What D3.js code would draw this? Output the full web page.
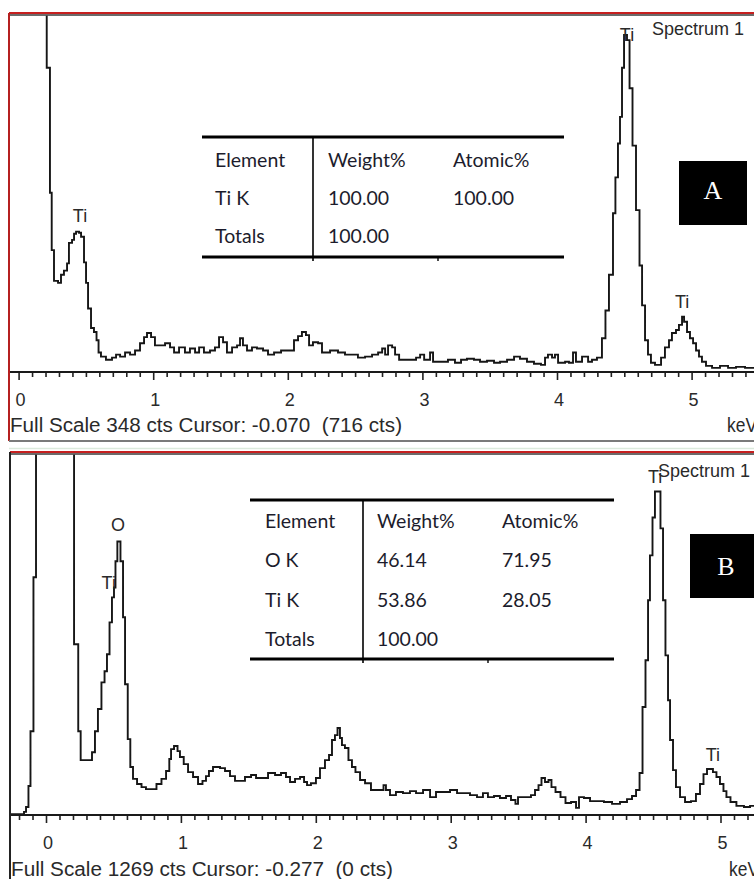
<!DOCTYPE html>
<html>
<head>
<meta charset="utf-8">
<script src="https://cdn.jsdelivr.net/npm/d3@7"></script>
<style>
  body { margin: 0; background: #fff; }
  svg { display: block; }
  .tick text { font-family: 'Liberation Sans', Arial, sans-serif; font-size: 18px; fill: #2a2a2a; }
  .tick line { stroke: #222; stroke-width: 1.6; }
</style>
</head>
<body>
<svg id="chart" width="754" height="879"></svg>
<script>
// EDS spectra, [keV, counts] at the start of each step
const spectrumA = [
  [-0.07, 800], [0.209, 297], [0.233, 175], [0.246, 119], [0.263, 89], [0.293, 87],
  [0.315, 95], [0.337, 99], [0.360, 106], [0.374, 126], [0.397, 129], [0.412, 135],
  [0.427, 137], [0.449, 136], [0.464, 132], [0.486, 107], [0.501, 87], [0.516, 62],
  [0.538, 43], [0.560, 39], [0.579, 31], [0.594, 19], [0.612, 15], [0.649, 12],
  [0.694, 14], [0.724, 17], [0.754, 15], [0.791, 19], [0.828, 17], [0.865, 21],
  [0.902, 28], [0.932, 34], [0.954, 38], [0.984, 34], [1.013, 26], [1.050, 26],
  [1.088, 28], [1.125, 24], [1.155, 19], [1.192, 24], [1.236, 19], [1.273, 23],
  [1.311, 19], [1.341, 24], [1.377, 19], [1.422, 21], [1.459, 24], [1.489, 34],
  [1.519, 29], [1.548, 19], [1.586, 24], [1.623, 26], [1.645, 33], [1.667, 26],
  [1.697, 21], [1.734, 24], [1.771, 23], [1.816, 21], [1.853, 17], [1.898, 19],
  [1.950, 21], [2.016, 21], [2.046, 31], [2.076, 35], [2.105, 39], [2.135, 36],
  [2.158, 26], [2.187, 29], [2.225, 28], [2.254, 19], [2.314, 21], [2.373, 19],
  [2.425, 17], [2.477, 17], [2.521, 14], [2.574, 15], [2.626, 17], [2.671, 19],
  [2.701, 23], [2.723, 17], [2.745, 26], [2.775, 24], [2.797, 17], [2.827, 12],
  [2.909, 12], [2.953, 14], [2.983, 17], [3.013, 12], [3.057, 19], [3.079, 10],
  [3.146, 10], [3.190, 12], [3.242, 9], [3.287, 12], [3.331, 13], [3.383, 12],
  [3.428, 10], [3.480, 11], [3.532, 9], [3.577, 10], [3.629, 12], [3.681, 15],
  [3.725, 13], [3.777, 10], [3.829, 8], [3.881, 7], [3.911, 14], [3.933, 17],
  [3.963, 14], [3.985, 17], [4.008, 9], [4.060, 10], [4.089, 9], [4.119, 19],
  [4.141, 10], [4.186, 15], [4.231, 10], [4.260, 12], [4.297, 14], [4.334, 33],
  [4.360, 60], [4.386, 95], [4.416, 155], [4.434, 190], [4.453, 223], [4.468, 249],
  [4.483, 297], [4.498, 329], [4.520, 324], [4.539, 277], [4.561, 221], [4.587, 158],
  [4.613, 104], [4.632, 65], [4.654, 31], [4.676, 17], [4.698, 9], [4.728, 7],
  [4.773, 14], [4.802, 24], [4.832, 31], [4.854, 38], [4.884, 41], [4.906, 46],
  [4.929, 54], [4.944, 49], [4.966, 39], [4.988, 33], [5.011, 28], [5.033, 21],
  [5.055, 15], [5.077, 10], [5.107, 6], [5.152, 4], [5.211, 6], [5.271, 4],
  [5.330, 5], [5.397, 4], [5.6, 4],
];

const spectrumB = [
  [-0.277, 3], [-0.163, 11], [-0.148, 28], [-0.130, 102], [-0.115, 295], [-0.093, 837],
  [-0.074, 2500], [0.208, 601], [0.239, 295], [0.257, 193], [0.341, 221], [0.363, 295],
  [0.385, 373], [0.411, 467], [0.434, 506], [0.452, 566], [0.471, 678], [0.489, 766],
  [0.504, 801], [0.515, 893], [0.529, 963], [0.552, 893], [0.571, 696], [0.586, 460],
  [0.606, 267], [0.625, 169], [0.645, 127], [0.675, 109], [0.708, 98], [0.741, 91],
  [0.819, 109], [0.856, 127], [0.890, 155], [0.914, 197], [0.927, 232], [0.949, 243],
  [0.975, 225], [0.993, 204], [1.021, 179], [1.053, 151], [1.090, 134], [1.127, 109],
  [1.160, 120], [1.186, 137], [1.208, 155], [1.238, 169], [1.290, 165], [1.327, 155],
  [1.364, 137], [1.401, 120], [1.438, 120], [1.475, 134], [1.520, 141], [1.557, 130],
  [1.601, 130], [1.646, 148], [1.698, 141], [1.742, 148], [1.779, 134], [1.809, 116],
  [1.846, 127], [1.883, 134], [1.913, 116], [1.935, 105], [1.964, 112], [2.001, 130],
  [2.031, 165], [2.068, 193], [2.098, 211], [2.120, 264], [2.142, 281], [2.161, 306],
  [2.179, 271], [2.194, 246], [2.216, 236], [2.242, 193], [2.268, 169], [2.294, 151],
  [2.328, 123], [2.365, 112], [2.409, 88], [2.502, 105], [2.520, 88], [2.550, 70],
  [2.594, 81], [2.646, 77], [2.698, 84], [2.743, 77], [2.795, 88], [2.847, 63],
  [2.891, 81], [2.950, 81], [2.995, 88], [3.047, 77], [3.091, 77], [3.143, 70],
  [3.195, 63], [3.239, 77], [3.276, 63], [3.321, 67], [3.365, 60], [3.410, 67],
  [3.447, 53], [3.480, 39], [3.499, 63], [3.551, 63], [3.595, 70], [3.625, 88],
  [3.651, 105], [3.673, 130], [3.699, 116], [3.725, 123], [3.747, 98], [3.777, 81],
  [3.814, 63], [3.851, 42], [3.892, 46], [3.929, 25], [3.951, 63], [3.988, 60],
  [4.033, 49], [4.085, 49], [4.136, 46], [4.196, 39], [4.255, 46], [4.307, 56],
  [4.344, 67], [4.374, 88], [4.400, 148], [4.422, 380], [4.444, 545], [4.463, 756],
  [4.477, 914], [4.496, 1047], [4.514, 1139], [4.555, 1009], [4.574, 756], [4.592, 562],
  [4.611, 404], [4.626, 264], [4.648, 158], [4.670, 98], [4.700, 63], [4.737, 46],
  [4.781, 49], [4.818, 74], [4.848, 109], [4.874, 144], [4.900, 162], [4.944, 151],
  [4.970, 134], [4.996, 109], [5.022, 84], [5.044, 63], [5.074, 46], [5.118, 32],
  [5.174, 28], [5.219, 32], [5.6, 32],
];

// peak labels [text, keV, counts at label baseline]
const peaksA = [['Ti', 0.456, 146], ['Ti', 4.52, 323], ['Ti', 4.93, 62]];
const peaksB = [['O', 0.534, 998], ['Ti', 0.465, 794], ['Ti', 4.515, 1170], ['Ti', 4.944, 190]];

const tableA = [
  ['Element', 'Weight%', 'Atomic%'],
  ['Ti K', '100.00', '100.00'],
  ['Totals', '100.00', ''],
];
const tableB = [
  ['Element', 'Weight%', 'Atomic%'],
  ['O K', '46.14', '71.95'],
  ['Ti K', '53.86', '28.05'],
  ['Totals', '100.00', ''],
];

const tickLabels = [0, 1, 2, 3, 4, 5];
const fullScale = [348, 1269];
const footers = [
  'Full Scale 348 cts Cursor: -0.070  (716 cts)',
  'Full Scale 1269 cts Cursor: -0.277  (0 cts)',
];

const panels = [
  {
    id: 'A', data: spectrumA, peaks: peaksA, table: tableA, full: fullScale[0], footer: footers[0],
    frameTop: 13, plotTop: 15.5, base: 372, left: 9, xMin: -0.07, zeroPx: 18.6, kev: 134.6,
    frameColor: '#c62020', leftColor: '#b52020', bottom: 441,
    footY: 432, footLen: 392, kevX: 727,
    tbl: { x1: 202, x2: 564, y1: 137, y2: 257, vx: 313, notch: 438, cols: [215, 328, 453], row0: 167, rowStep: 38 },
    box: { x: 679, y: 161, w: 68, h: 64 }, letterY: 199, specY: 35, specX: 652,
  },
  {
    id: 'B', data: spectrumB, peaks: peaksB, table: tableB, full: fullScale[1], footer: footers[1],
    frameTop: 452, plotTop: 454.5, base: 815, left: 10, xMin: -0.277, zeroPx: 46, kev: 134.9,
    frameColor: '#c62020', leftColor: '#222', bottom: null,
    footY: 876, footLen: 382, kevX: 729,
    tbl: { x1: 250, x2: 614, y1: 500, y2: 659, vx: 363, notch: 488, cols: [265, 377, 502], row0: 528, rowStep: 39.3 },
    box: { x: 690, y: 534, w: 70, h: 64 }, letterY: 575, specY: 477, specX: 658,
  },
];

const svg = d3.select('#chart');
const W = 754;

panels.forEach(p => {
  const g = svg.append('g');
  const x = d3.scaleLinear().domain([0, 5]).range([p.zeroPx, p.zeroPx + 5 * p.kev]);
  const y = d3.scaleLinear().domain([0, p.full]).range([p.base, p.plotTop]);

  // clip so off-scale counts vanish above the frame
  g.append('clipPath').attr('id', `clip${p.id}`)
    .append('rect')
    .attr('x', p.left).attr('y', p.plotTop)
    .attr('width', W - p.left).attr('height', p.base - p.plotTop);

  const line = d3.line()
    .x(d => x(d[0]))
    .y(d => y(d[1]))
    .curve(d3.curveStepAfter);

  g.append('path')
    .datum(p.data)
    .attr('clip-path', `url(#clip${p.id})`)
    .attr('fill', 'none')
    .attr('stroke', '#161616')
    .attr('stroke-width', 1.9)
    .attr('d', line);

  // baseline + ticks
  const minor = d3.range(-3, 57).map(i => i / 10).filter(v => v >= p.xMin && v % 1 !== 0);
  const axisG = g.append('g').attr('transform', `translate(0,${p.base})`);
  axisG.call(d3.axisBottom(x).tickValues(minor).tickSize(5).tickFormat(''))
    .call(a => a.select('.domain').remove());
  const majorG = g.append('g').attr('transform', `translate(0,${p.base})`);
  majorG.call(d3.axisBottom(x).tickValues(tickLabels).tickSize(8).tickPadding(13).tickFormat(d3.format('d')))
    .call(a => a.select('.domain').remove());
  majorG.selectAll('.tick text').attr('dx', 1.5);

  g.append('line')
    .attr('x1', p.left).attr('x2', W)
    .attr('y1', p.base).attr('y2', p.base)
    .attr('stroke', '#1a1a1a').attr('stroke-width', 1.8);

  // frame
  g.append('line')
    .attr('x1', p.left).attr('x2', W).attr('y1', p.frameTop).attr('y2', p.frameTop)
    .attr('stroke', p.frameColor).attr('stroke-width', 2);
  g.append('line')
    .attr('x1', p.left).attr('x2', W).attr('y1', p.frameTop + 2).attr('y2', p.frameTop + 2)
    .attr('stroke', '#3a3a3a').attr('stroke-width', 1.4);
  g.append('line')
    .attr('x1', p.left).attr('x2', p.left)
    .attr('y1', p.frameTop).attr('y2', p.bottom || 879)
    .attr('stroke', p.leftColor).attr('stroke-width', 2);
  if (p.bottom) {
    g.append('line')
      .attr('x1', p.left).attr('x2', W).attr('y1', p.bottom).attr('y2', p.bottom)
      .attr('stroke', '#7a7a7a').attr('stroke-width', 2);
  }

  // footer
  g.append('text')
    .attr('x', p.left + 1).attr('y', p.footY)
    .attr('textLength', p.footLen).attr('lengthAdjust', 'spacingAndGlyphs')
    .style('white-space', 'pre')
    .style('font-family', "'Liberation Sans', Arial, sans-serif")
    .style('font-size', '20px').style('fill', '#2a2a2a')
    .text(p.footer);
  g.append('text')
    .attr('x', p.kevX).attr('y', p.footY)
    .attr('textLength', 30).attr('lengthAdjust', 'spacingAndGlyphs')
    .style('font-family', "'Liberation Sans', Arial, sans-serif")
    .style('font-size', '20px').style('fill', '#2a2a2a')
    .text('keV');

  // peak labels
  g.selectAll('.peak')
    .data(p.peaks)
    .enter()
    .append('text')
    .attr('class', 'peak')
    .attr('x', d => x(d[1]))
    .attr('y', d => y(d[2]))
    .attr('text-anchor', 'middle')
    .style('font-family', "'Liberation Sans', Arial, sans-serif")
    .style('font-size', '18px').style('fill', '#2a2a2a')
    .text(d => d[0]);

  g.append('text')
    .attr('x', p.specX).attr('y', p.specY)
    .style('font-family', "'Liberation Sans', Arial, sans-serif")
    .style('font-size', '18px').style('fill', '#2a2a2a')
    .text('Spectrum 1');

  // composition table
  const t = p.tbl;
  g.append('line').attr('x1', t.x1).attr('x2', t.x2).attr('y1', t.y1).attr('y2', t.y1)
    .attr('stroke', '#000').attr('stroke-width', 3);
  g.append('line').attr('x1', t.x1).attr('x2', t.x2).attr('y1', t.y2).attr('y2', t.y2)
    .attr('stroke', '#000').attr('stroke-width', 3);
  g.append('line').attr('x1', t.vx).attr('x2', t.vx).attr('y1', t.y1).attr('y2', t.y2 + 4)
    .attr('stroke', '#000').attr('stroke-width', 1.6);
  g.append('line').attr('x1', t.notch).attr('x2', t.notch).attr('y1', t.y2).attr('y2', t.y2 + 4)
    .attr('stroke', '#000').attr('stroke-width', 1.4);

  p.table.forEach((row, i) => {
    row.forEach((cell, j) => {
      g.append('text')
        .attr('x', t.cols[j])
        .attr('y', t.row0 + i * t.rowStep)
        .style('font-family', 'Lato, sans-serif')
        .style('font-size', '19.5px').style('fill', '#1c1c2c')
        .text(cell);
    });
  });

  // panel letter
  g.append('rect')
    .attr('x', p.box.x).attr('y', p.box.y)
    .attr('width', p.box.w).attr('height', p.box.h)
    .attr('fill', '#000');
  g.append('text')
    .attr('x', p.box.x + p.box.w / 2 + (p.id === 'B' ? 1 : 0))
    .attr('y', p.letterY)
    .attr('text-anchor', 'middle')
    .style('font-family', "'Liberation Serif', 'Times New Roman', serif")
    .style('font-size', '26px').style('fill', '#fff')
    .text(p.id);
});

// faint separator between the two screenshots
svg.append('line')
  .attr('x1', 9).attr('x2', W).attr('y1', 448.5).attr('y2', 448.5)
  .attr('stroke', '#dbe9dc').attr('stroke-width', 1.5);
</script>
</body>
</html>
